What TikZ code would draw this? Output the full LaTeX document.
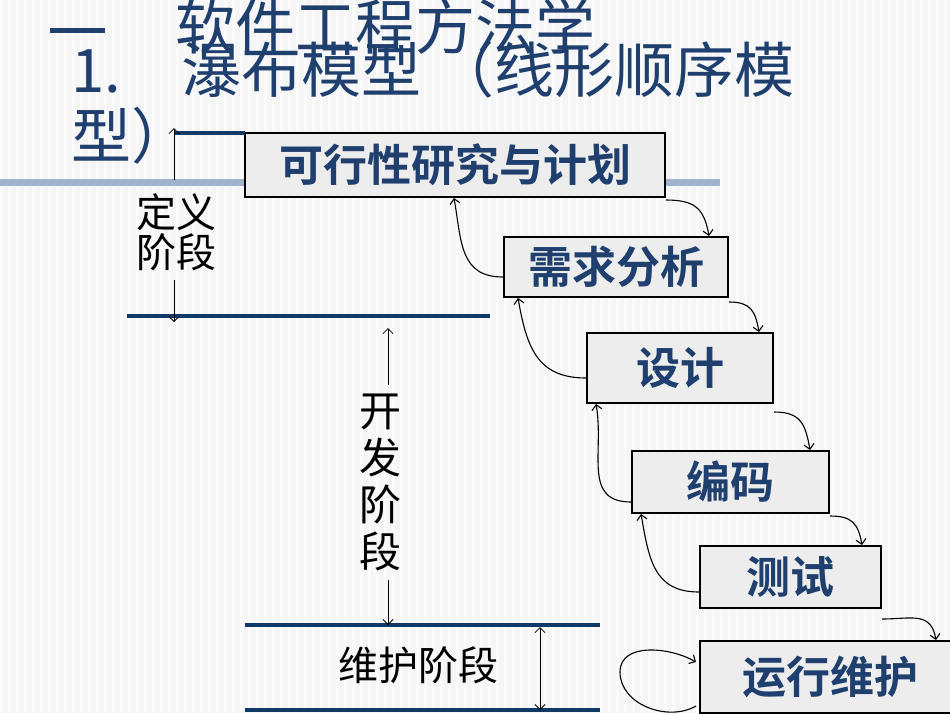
\documentclass[tikz,border=0pt]{standalone}
\usepackage{fontspec}
\setmainfont{Liberation Sans}
\newfontfamily\cjk{Noto Sans CJK SC}
\newfontfamily\cjkb{Noto Sans CJK SC Bold}
\usetikzlibrary{arrows.meta}
\definecolor{tblue}{HTML}{1F3F6E}
\definecolor{bline}{HTML}{0F3A68}
\definecolor{lblue}{HTML}{9FB4CC}
\begin{document}
\begin{tikzpicture}[x=1pt,y=-1pt,
  stage/.style={draw=black,line width=2pt,fill=black!7,inner sep=0pt,text=tblue,font=\cjkb\fontsize{44}{46}\selectfont},
  fwd/.style={-{Straight Barb[length=5pt]},line width=1.1pt},
  sep/.style={bline,line width=4pt},
  lbl/.style={font=\cjk\fontsize{40}{42}\selectfont,text=black,align=center},
  dim/.style={line width=0.8pt},
  ttl/.style={anchor=west,text=tblue,font=\cjk\fontsize{60}{62}\selectfont}]
\useasboundingbox (0,0) rectangle (950,713);
\fill[black!4] (0,0) rectangle (950,713);
\foreach \i in {0,8,...,944} \fill[white,opacity=0.5] (\i,0) rectangle (\i+3,713);
\draw[lblue,line width=7pt] (0,182) -- (720,182);
% title
\draw[tblue,line width=5pt] (50,30) -- (105,30);
\node[ttl] (t1) at (172,26) {软件工程方法学};
\node[ttl] (t2) at (68,70) {1.\hspace{1em}瀑布模型 （线形顺序模};
\node[ttl] (t3) at (68,136) {型）};
% boxes
\node[stage,minimum width=420pt,minimum height=64pt] (b1) at (455,165) {可行性研究与计划};
\node[stage,minimum width=224pt,minimum height=60pt] (b2) at (616,267) {需求分析};
\node[stage,minimum width=186pt,minimum height=70pt] (b3) at (680,368) {设计};
\node[stage,minimum width=197pt,minimum height=62pt] (b4) at (730.5,482) {编码};
\node[stage,minimum width=181pt,minimum height=62pt] (b5) at (790.5,577) {测试};
\node[stage,minimum width=260pt,minimum height=72pt] (b6) at (830,677) {运行维护};
% forward arrows
\draw[fwd] ([yshift=-2pt]b1.south east) to[out=0,in=100,looseness=1.3] ([xshift=-20pt]b2.north east);
\draw[fwd] ([yshift=-4pt]b2.south east) to[out=0,in=100,looseness=1.3] ([xshift=-15pt]b3.north east);
\draw[fwd] ([yshift=-8pt]b3.south east) to[out=0,in=100,looseness=1.3] ([xshift=-20pt]b4.north east);
\draw[fwd] ([yshift=-2pt]b4.south east) to[out=0,in=100,looseness=1.3] ([xshift=-20pt]b5.north east);
\draw[fwd] ([yshift=-10pt]b5.south east) to[out=0,in=100,looseness=1.3] ([xshift=-25pt]b6.north east);
% back arrows
\draw[fwd] ([yshift=-10pt]b2.west) to[out=180,in=-80,looseness=1.2] ([xshift=210pt]b1.south west);
\draw[fwd] ([yshift=-10pt]b3.west) to[out=180,in=-80,looseness=1.2] ([xshift=15pt]b2.south west);
\draw[fwd] ([yshift=-20pt]b4.west) to[out=180,in=-80,looseness=1.2] ([xshift=10pt]b3.south west);
\draw[fwd] ([yshift=-15pt]b5.west) to[out=180,in=-80,looseness=1.2] ([xshift=10pt]b4.south west);
\coordinate (lp) at (696,706);
\coordinate (lq) at (620,672);
\draw[fwd] (lp) to[out=210,in=270] (lq) to[out=90,in=150] (696,662);
% separators
\draw[sep] (175,133) -- (245,133);
\draw[sep] (127,316) -- (490,316);
\draw[sep] (245,625) -- (600,625);
\draw[sep] (245,710) -- (600,710);
% phase labels
\node[lbl] (d1) at (176,232) {定义\\[-2pt]阶段};
\node[lbl,font=\cjk\fontsize{42}{47}\selectfont] (d2) at (380,482) {开\\发\\阶\\段};
\node[lbl] (d3) at (418,665) {维护阶段};
\coordinate (a1t) at (174,128); \coordinate (a1m) at (174,180);
\coordinate (a1n) at (174,280); \coordinate (a1b) at (174,322);
\draw[dim,{Straight Barb[length=5pt]}-] (a1t) -- (a1m);
\draw[dim,-{Straight Barb[length=5pt]}] (a1n) -- (a1b);
\coordinate (a2t) at (388,328); \coordinate (a2m) at (388,385);
\coordinate (a2n) at (388,580); \coordinate (a2b) at (388,625);
\draw[dim,{Straight Barb[length=5pt]}-] (a2t) -- (a2m);
\draw[dim,-{Straight Barb[length=5pt]}] (a2n) -- (a2b);
\coordinate (a3t) at (540,627); \coordinate (a3b) at (540,710);
\draw[dim,{Straight Barb[length=5pt]}-{Straight Barb[length=5pt]}] (a3t) -- (a3b);
\end{tikzpicture}
\end{document}
